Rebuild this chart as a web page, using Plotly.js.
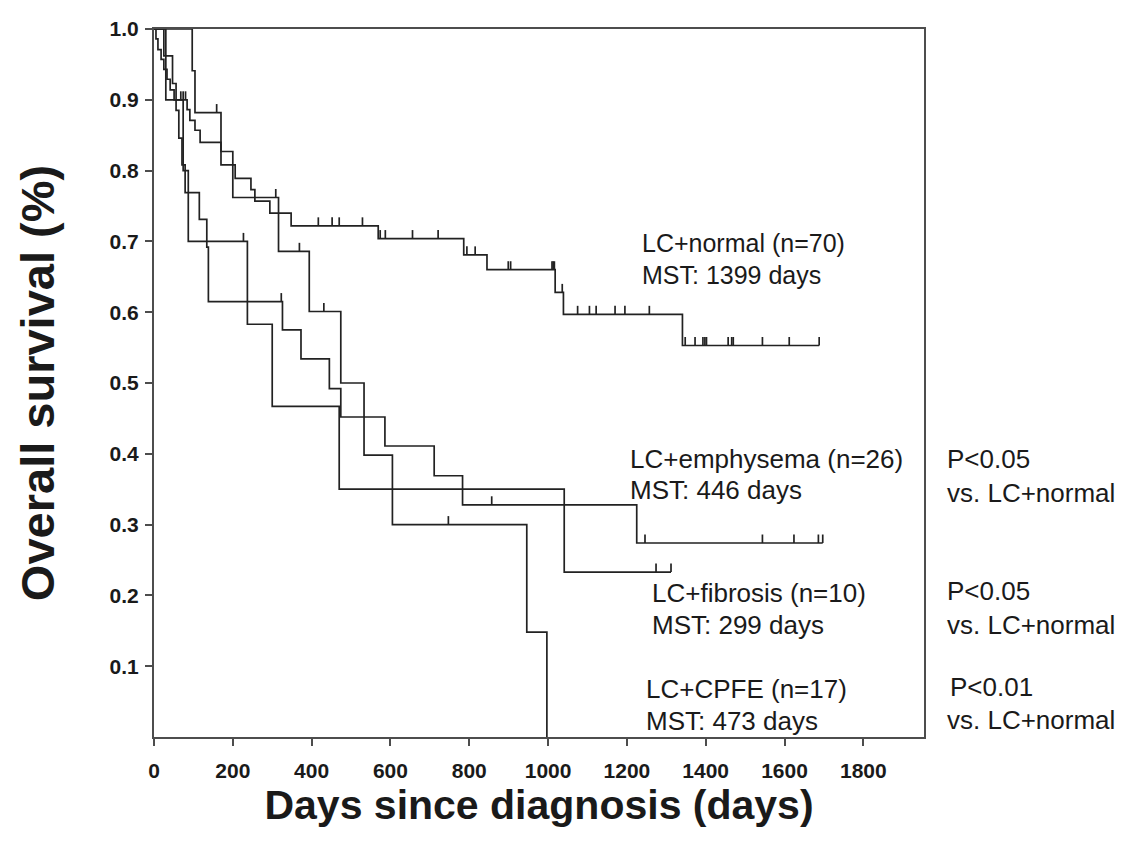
<!DOCTYPE html>
<html>
<head>
<meta charset="utf-8">
<script src="https://cdn.plot.ly/plotly-3.0.1.min.js"></script>
<style>
  html, body { margin: 0; padding: 0; background: #fff; }
  #chart { width: 1123px; height: 844px; }
</style>
</head>
<body>
<div id="chart"></div>
<script>
// ---------- DATA ----------
// LC+normal (n=70)
const normalTimes = [0, 5, 10, 18, 25, 33, 41, 51, 84, 91, 104, 117, 170, 206, 246, 256, 294, 348, 569, 786, 845, 1018, 1039, 1341];
const normalSurv  = [1, 0.986, 0.971, 0.957, 0.943, 0.929, 0.914, 0.900, 0.886, 0.871, 0.857, 0.840, 0.808, 0.789, 0.773, 0.757, 0.740, 0.722, 0.704, 0.681, 0.660, 0.628, 0.597, 0.553];
const normalCensor = [68, 74, 80, 417, 452, 470, 529, 574, 587, 656, 721, 794, 815, 899, 905, 1010, 1013, 1016, 1036, 1075, 1105, 1122, 1170, 1195, 1257, 1348, 1373, 1393, 1398, 1402, 1457, 1466, 1470, 1544, 1612, 1688];
const normalEnd = 1688;

// LC+emphysema (n=26)
const emphTimes = [0, 25, 47, 56, 63, 71, 79, 115, 134, 138, 326, 373, 445, 474, 586, 711, 783, 1225];
const emphSurv  = [1, 0.962, 0.923, 0.885, 0.846, 0.808, 0.769, 0.731, 0.692, 0.615, 0.575, 0.534, 0.492, 0.452, 0.411, 0.369, 0.328, 0.274];
const emphCensor = [323, 857, 1246, 1544, 1624, 1686, 1697];
const emphEnd = 1697;

// LC+fibrosis (n=10)
const fibTimes = [0, 30, 74, 87, 237, 300, 470, 1041];
const fibSurv  = [1, 0.9, 0.8, 0.7, 0.583, 0.467, 0.350, 0.233];
const fibCensor = [227, 1274, 1312];
const fibEnd = 1312;

// LC+CPFE (n=17)
const cpfeTimes = [0, 97, 104, 170, 200, 316, 394, 474, 533, 605, 946, 997];
const cpfeSurv  = [1, 0.941, 0.882, 0.827, 0.762, 0.686, 0.601, 0.500, 0.398, 0.300, 0.148, 0];
const cpfeCensor = [159, 309, 369, 431, 747];
const cpfeEnd = 997;

// Axis ticks
const xTickVals = [0, 200, 400, 600, 800, 1000, 1200, 1400, 1600, 1800];
const yTickVals = [0.1, 0.2, 0.3, 0.4, 0.5, 0.6, 0.7, 0.8, 0.9, 1.0];

// Text labels
const groupLabels = [
  {name: 'LC+normal (n=70)',    mst: 'MST: 1399 days'},
  {name: 'LC+emphysema (n=26)', mst: 'MST: 446 days'},
  {name: 'LC+fibrosis (n=10)',  mst: 'MST: 299 days'},
  {name: 'LC+CPFE (n=17)',      mst: 'MST: 473 days'}
];
const pLabels = [
  {p: 'P<0.05', vs: 'vs. LC+normal'},
  {p: 'P<0.05', vs: 'vs. LC+normal'},
  {p: 'P<0.01', vs: 'vs. LC+normal'}
];

// ---------- STYLE ----------
const FONT = 'Liberation Sans, Arial, Helvetica, sans-serif';
const LINE_COLOR = '#222222';
const LINE_W = 1.7;
const CENSOR_H = 0.012;   // censor tick height in survival units

function stepTrace(times, surv, end, name) {
  const x = times.slice();
  const y = surv.slice();
  if (end > times[times.length - 1]) { x.push(end); y.push(surv[surv.length - 1]); }
  return {type: 'scatter', mode: 'lines', x: x, y: y, name: name,
          line: {shape: 'hv', color: LINE_COLOR, width: LINE_W}, hoverinfo: 'x+y+name'};
}
function survAt(times, surv, t) {
  let s = surv[0];
  for (let i = 0; i < times.length; i++) if (times[i] <= t) s = surv[i];
  return s;
}
function censorTrace(times, surv, cens, name) {
  const x = [], y = [];
  cens.forEach(function (t) {
    const s = survAt(times, surv, t);
    x.push(t, t, null); y.push(s, s + CENSOR_H, null);
  });
  return {type: 'scatter', mode: 'lines', x: x, y: y, name: name + ' censored',
          line: {color: LINE_COLOR, width: LINE_W}, hoverinfo: 'skip', showlegend: false};
}

const traces = [
  stepTrace(normalTimes, normalSurv, normalEnd, groupLabels[0].name),
  censorTrace(normalTimes, normalSurv, normalCensor, groupLabels[0].name),
  stepTrace(emphTimes, emphSurv, emphEnd, groupLabels[1].name),
  censorTrace(emphTimes, emphSurv, emphCensor, groupLabels[1].name),
  stepTrace(fibTimes, fibSurv, fibEnd, groupLabels[2].name),
  censorTrace(fibTimes, fibSurv, fibCensor, groupLabels[2].name),
  stepTrace(cpfeTimes, cpfeSurv, cpfeEnd, groupLabels[3].name),
  censorTrace(cpfeTimes, cpfeSurv, cpfeCensor, groupLabels[3].name)
];

// annotation placement (paper coords)
const plotL = 154, plotR = 924, plotT = 29, plotB = 737;
function px2x(px) { return (px - plotL) / (plotR - plotL); }
function px2y(py) { return (plotB - py) / (plotB - plotT); }

const groupPos = [ {x: 640, y1: 243, y2: 275, size: 25}, {x: 628, y1: 459, y2: 490, size: 26},
                   {x: 650, y1: 593, y2: 625, size: 26}, {x: 644, y1: 689, y2: 721, size: 26} ];
const pPos = [ {x: 945, y1: 459, y2: 493}, {x: 945, y1: 591, y2: 625}, {x: 948, y1: 687, y2: 720} ];

function annFont(size) { return {family: FONT, size: size, color: '#1a1a1a'}; }
const annotations = [];
groupLabels.forEach(function (g, i) {
  annotations.push({xref: 'paper', yref: 'paper', x: px2x(groupPos[i].x), y: px2y(groupPos[i].y1),
    text: g.name, showarrow: false, xanchor: 'left', yanchor: 'middle', font: annFont(groupPos[i].size)});
  annotations.push({xref: 'paper', yref: 'paper', x: px2x(groupPos[i].x), y: px2y(groupPos[i].y2),
    text: g.mst, showarrow: false, xanchor: 'left', yanchor: 'middle', font: annFont(groupPos[i].size)});
});
pLabels.forEach(function (g, i) {
  annotations.push({xref: 'paper', yref: 'paper', x: px2x(pPos[i].x), y: px2y(pPos[i].y1),
    text: g.p, showarrow: false, xanchor: 'left', yanchor: 'middle', font: annFont(26)});
  annotations.push({xref: 'paper', yref: 'paper', x: px2x(945), y: px2y(pPos[i].y2),
    text: g.vs, showarrow: false, xanchor: 'left', yanchor: 'middle', font: annFont(26)});
});

const layout = {
  width: 1123, height: 844,
  margin: {l: plotL, r: 1123 - plotR, t: plotT, b: 844 - plotB, pad: 0},
  paper_bgcolor: '#ffffff', plot_bgcolor: '#ffffff',
  showlegend: false,
  font: {family: FONT, color: '#1a1a1a'},
  xaxis: {
    range: [0, 1954], tickvals: xTickVals, ticktext: xTickVals.map(String),
    showgrid: false, zeroline: false, showline: true, mirror: true,
    linecolor: '#4d4d4d', linewidth: 2, ticks: 'outside', ticklen: 7, tickwidth: 2, tickcolor: '#4d4d4d',
    ticklabelstandoff: 7,
    tickfont: {family: FONT, size: 21, weight: 'bold', color: '#1a1a1a'},
    title: {text: 'Days since diagnosis (days)', standoff: 7,
            font: {family: FONT, size: 41, weight: 'bold', color: '#1a1a1a'}},
    automargin: false
  },
  yaxis: {
    range: [0, 1], tickvals: yTickVals, ticktext: yTickVals.map(function (v) { return v.toFixed(1); }),
    showgrid: false, zeroline: false, showline: true, mirror: true,
    linecolor: '#4d4d4d', linewidth: 2, ticks: 'outside', ticklen: 7, tickwidth: 2, tickcolor: '#4d4d4d',
    ticklabelstandoff: 2,
    tickfont: {family: FONT, size: 21, weight: 'bold', color: '#1a1a1a'},
    title: {text: 'Overall survival (%)', standoff: 40,
            font: {family: FONT, size: 47, weight: 'bold', color: '#1a1a1a'}},
    automargin: false
  },
  annotations: annotations
};

Plotly.newPlot('chart', traces, layout, {displayModeBar: false, staticPlot: true});
</script>
</body>
</html>
